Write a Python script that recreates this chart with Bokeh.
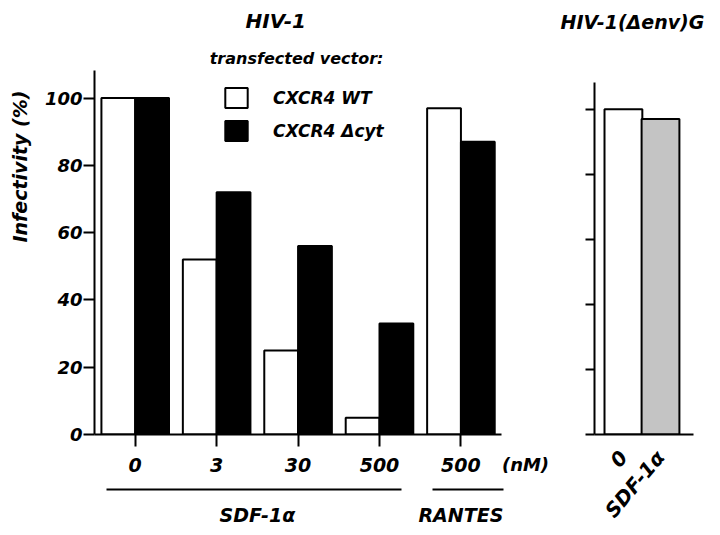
from bokeh.plotting import figure
from bokeh.models import FixedTicker, Legend, LegendItem, Title, Range1d, LinearAxis, Label
from bokeh.layouts import row
from bokeh.embed import file_html
from bokeh.resources import INLINE

# ---------------- data ----------------
doses = ["0", "3", "30", "500", "500"]
treatment_of_dose = ["SDF-1α", "SDF-1α", "SDF-1α", "SDF-1α", "RANTES"]
groups = ["SDF-1α", "RANTES"]
unit_label = "(nM)"
series = ["CXCR4 WT", "CXCR4 Δcyt"]
wt_values = [100, 52, 25, 5, 97]
dcyt_values = [100, 72, 56, 33, 87]
y_ticks = [0, 20, 40, 60, 80, 100]
env_categories = ["0", "SDF-1α"]
env_values = [100, 97]
left_title = "HIV-1"
right_title = "HIV-1(Δenv)G"
legend_title = "transfected vector:"
y_label = "Infectivity (%)"

# ---------------- style ----------------
FONT = "DejaVu Sans"
STYLE = "bold italic"
W1, W2, H = 552, 164, 532
TOP, BOTTOM = 34, 97
BW = 0.415
X_START = -0.5
X_END = len(doses) - 0.5 + 0.293
LEFT1, FRAME1_W = 91, 434
LEFT2, FRAME2_W = 42, 99
Y1_TOP, Y1_AXIS_END = 118.9, 108.2
Y2_TOP, Y2_AXIS_END = 123.0, 108.3
group_pads = {"SDF-1α": (0.354, 0.244), "RANTES": (0.378, 0.524)}


def style_axis(ax, size):
    ax.axis_line_width = 2
    ax.axis_line_color = "black"
    ax.major_tick_line_width = 2
    ax.major_tick_line_color = "black"
    ax.major_tick_in = 0
    ax.minor_tick_line_color = None
    ax.major_label_text_font = FONT
    ax.major_label_text_font_style = STYLE
    ax.major_label_text_font_size = size
    ax.major_label_text_color = "black"


def title(text, size, **kw):
    return Title(text=text, text_font=FONT, text_font_style=STYLE,
                 text_font_size=size, text_color="black", **kw)


# ---------------- left panel ----------------
p1 = figure(width=W1, height=H, x_range=Range1d(X_START, X_END),
            y_range=Range1d(0, Y1_TOP), output_backend="svg", toolbar_location=None,
            min_border_left=LEFT1, min_border_right=W1 - LEFT1 - FRAME1_W,
            min_border_top=TOP, min_border_bottom=BOTTOM)
p1.outline_line_color = None
p1.grid.visible = False

idx = list(range(len(doses)))
x_wt = [i - BW / 2 for i in idx]
x_dc = [i + BW / 2 for i in idx]
r_wt = p1.vbar(x=x_wt, top=wt_values, width=BW, fill_color="white",
               line_color="black", line_width=2)
r_dc = p1.vbar(x=x_dc, top=dcyt_values, width=BW, fill_color="black",
               line_color="black", line_width=2)

# dose axis (with unit label on the same row)
xa = p1.xaxis[0]
style_axis(xa, "19px")
xa.ticker = FixedTicker(ticks=idx)
xa.major_label_overrides = {i: d for i, d in zip(idx, doses)}
xa.major_tick_out = 12
xa.major_label_standoff = 11
xa.bounds = (X_START, len(doses) - 0.5)
xa.axis_label = unit_label
xa.axis_label_align = "end"
xa.axis_label_standoff = -21
xa.axis_label_text_font = FONT
xa.axis_label_text_font_style = STYLE
xa.axis_label_text_font_size = "18px"
xa.axis_label_text_color = "black"

# spacer between dose labels and group underline
spacer = LinearAxis(ticker=FixedTicker(ticks=[]), axis_line_color=None,
                    major_tick_out=0, major_tick_in=0, major_label_standoff=0,
                    minor_tick_line_color=None, major_tick_line_color=None,
                    axis_label=" ", axis_label_standoff=4,
                    axis_label_text_font_size="4px")
p1.add_layout(spacer, "below")

# group axis: underlines + group names
ppu = FRAME1_W / (X_END - X_START)
extents, centers = [], []
for g in groups:
    members = [i for i, t in zip(idx, treatment_of_dose) if t == g]
    pl, pr = group_pads[g]
    extents.append((min(members) - pl, max(members) + pr))
    centers.append((min(members) + max(members)) / 2)
dash_parts = []
for k, (a, b) in enumerate(extents):
    if k > 0:
        dash_parts.append(round((a - extents[k - 1][1]) * ppu))
    dash_parts.append(round((b - a) * ppu))
dash_parts.append(2000)
ga = LinearAxis(ticker=FixedTicker(ticks=centers),
                major_label_overrides={c: g for c, g in zip(centers, groups)},
                bounds=(extents[0][0], extents[-1][1]))
style_axis(ga, "19px")
ga.major_tick_out = 0
ga.major_tick_line_color = None
ga.major_label_standoff = 14
ga.axis_line_dash = " ".join(str(d) for d in dash_parts)
p1.add_layout(ga, "below")

# y axis
ya = p1.yaxis[0]
style_axis(ya, "18px")
ya.ticker = FixedTicker(ticks=y_ticks)
ya.bounds = (0, Y1_AXIS_END)
ya.major_tick_out = 11
ya.major_label_standoff = 1
p1.add_layout(title(y_label, "19px", align="right", offset=56, standoff=17,
                    vertical_align="top"), "left")

p1.add_layout(title(left_title, "20px", align="left", offset=151, standoff=0,
                    vertical_align="top"), "above")

p1.add_layout(Label(x=0.915, y=111.8, text=legend_title, text_font=FONT,
                    text_font_style=STYLE, text_font_size="16px", text_color="black",
                    text_baseline="middle", text_align="left"))

legend = Legend(items=[LegendItem(label=series[0], renderers=[r_wt]),
                       LegendItem(label=series[1], renderers=[r_dc])],
                location=(128, 291), glyph_width=28, glyph_height=25, label_height=20,
                label_standoff=23, spacing=8, padding=0, margin=0,
                border_line_color=None, background_fill_alpha=0,
                label_text_font=FONT, label_text_font_style=STYLE,
                label_text_font_size="17px", label_text_color="black")
p1.add_layout(legend)

# ---------------- right panel ----------------
p2 = figure(width=W2, height=H, x_range=Range1d(-0.78, 1.89), y_range=Range1d(0, Y2_TOP),
            output_backend="svg", toolbar_location=None,
            min_border_left=LEFT2, min_border_right=W2 - LEFT2 - FRAME2_W,
            min_border_top=TOP, min_border_bottom=BOTTOM)
p2.outline_line_color = None
p2.grid.visible = False
eidx = list(range(len(env_categories)))
p2.vbar(x=eidx, top=env_values, width=1.02, fill_color=["white", "#c4c4c4"],
        line_color="black", line_width=2)

style_axis(p2.xaxis[0], "20px")
p2.xaxis.ticker = FixedTicker(ticks=eidx)
p2.xaxis.major_label_overrides = {i: c for i, c in zip(eidx, env_categories)}
p2.xaxis.major_tick_line_color = None
p2.xaxis.major_tick_out = 0
p2.xaxis.major_label_standoff = 19
p2.xaxis.major_label_orientation = 0.87

style_axis(p2.yaxis[0], "10px")
p2.yaxis.ticker = FixedTicker(ticks=y_ticks)
p2.yaxis.bounds = (0, Y2_AXIS_END)
p2.yaxis.major_label_overrides = {t: "" for t in y_ticks}
p2.yaxis.major_tick_out = 9

p2.add_layout(title(right_title, "19px", align="left", offset=-34, standoff=0,
                    vertical_align="top"), "above")

layout = row(p1, p2)
open("out.html", "w").write(file_html(layout, INLINE))
